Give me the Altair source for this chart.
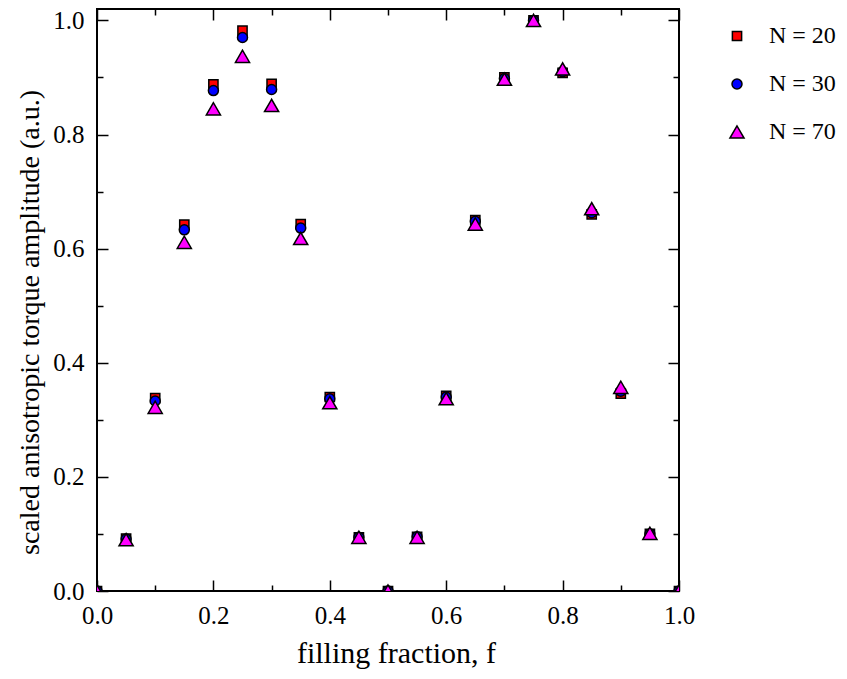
import altair as alt
import pandas as pd

f_vals = [0.0, 0.05, 0.1, 0.15, 0.2, 0.25, 0.3, 0.35, 0.4, 0.45, 0.5,
          0.55, 0.6, 0.65, 0.7, 0.75, 0.8, 0.85, 0.9, 0.95, 1.0]
n20 = [0.0, 0.092, 0.338, 0.642, 0.888, 0.982, 0.889, 0.643, 0.340, 0.094, 0.0,
       0.095, 0.342, 0.650, 0.900, 1.0, 0.908, 0.660, 0.346, 0.100, 0.0]
n30 = [0.0, 0.091, 0.333, 0.633, 0.877, 0.970, 0.879, 0.636, 0.337, 0.094, 0.0,
       0.095, 0.340, 0.648, 0.898, 1.0, 0.910, 0.663, 0.350, 0.100, 0.0]
n70 = [0.0, 0.090, 0.322, 0.611, 0.845, 0.937, 0.851, 0.618, 0.330, 0.094, 0.0,
       0.094, 0.337, 0.643, 0.897, 1.0, 0.915, 0.670, 0.357, 0.101, 0.0]
series_names = ["N = 20", "N = 30", "N = 70"]
series_colors = ["#FF0000", "#0000FF", "#FF00FF"]
series_outline = ["#000000", "#000000", "#000000"]
series_shapes = ["square", "circle", "triangle-up"]
series_sizes = [85, 100, 200]
major_ticks = [0.0, 0.2, 0.4, 0.6, 0.8, 1.0]
minor_ticks = [0.1, 0.3, 0.5, 0.7, 0.9]

rows = []
for name, vals in zip(series_names, [n20, n30, n70]):
    for f, v in zip(f_vals, vals):
        rows.append({"f": f, "amp": v, "series": name})
df = pd.DataFrame(rows)

FONT = "Liberation Serif"
xs = alt.Scale(domain=[0, 1], nice=False, zero=False)
ys = alt.Scale(domain=[0, 1.02], nice=False, zero=False)


def ax(orient, values, size, labels=False, title=None, **kw):
    d = dict(orient=orient, values=values, tickSize=size, offset=-size,
             labels=labels, domain=False, grid=False, tickColor="black",
             tickWidth=1.5, title=title)
    d.update(kw)
    return alt.Axis(**d)


legend = alt.Legend(title=None, orient="right", offset=30, padding=15,
                    labelFont=FONT, labelFontSize=24, labelColor="black",
                    symbolStrokeColor="black", symbolStrokeWidth=1.5,
                    rowPadding=24, labelOffset=20)

main = alt.Chart(df).mark_point(filled=True, strokeWidth=1.5,
                                 opacity=1, clip=True).encode(
    x=alt.X("f:Q", scale=xs,
            axis=ax("bottom", major_ticks, 11, labels=True,
                    title="filling fraction, f", format=".1f",
                    labelPadding=12, labelFlush=False, labelFont=FONT,
                    labelFontSize=25, labelColor="black", titleFont=FONT,
                    titleFontSize=30, titleFontWeight="normal",
                    titleColor="black", titleX=299, titleY=82,
                    titleBaseline="alphabetic")),
    y=alt.Y("amp:Q", scale=ys,
            axis=ax("left", major_ticks, 11, labels=True,
                    title="scaled anisotropic torque amplitude (a.u.)", format=".1f",
                    labelPadding=13, labelFlush=False, labelFont=FONT,
                    labelFontSize=25, labelColor="black", titleFont=FONT,
                    titleFontSize=28, titleFontWeight="normal",
                    titleColor="black", titleX=-70, titleY=313,
                    titleBaseline="alphabetic")),
    fill=alt.Fill("series:N", scale=alt.Scale(domain=series_names, range=series_colors),
                  legend=legend),
    stroke=alt.Stroke("series:N", scale=alt.Scale(domain=series_names, range=series_outline),
                      legend=legend),
    shape=alt.Shape("series:N", scale=alt.Scale(domain=series_names, range=series_shapes),
                    legend=legend),
    size=alt.Size("series:N",
                  scale=alt.Scale(type="ordinal", domain=series_names, range=series_sizes),
                  legend=legend),
    order=alt.Order("series:N"),
)


def helper(xaxis, yaxis):
    return alt.Chart(df).mark_point(opacity=0).encode(
        x=alt.X("f:Q", scale=xs, axis=xaxis),
        y=alt.Y("amp:Q", scale=ys, axis=yaxis),
    )


minor_bl = helper(ax("bottom", minor_ticks, 6), ax("left", minor_ticks, 6))
major_tr = helper(ax("top", major_ticks, 11), ax("right", major_ticks, 11))
minor_tr = helper(ax("top", minor_ticks, 6), ax("right", minor_ticks, 6))

chart = alt.layer(main, minor_bl, major_tr, minor_tr).resolve_axis(
    x="independent", y="independent"
).properties(
    width=582, height=582,
    autosize=alt.AutoSizeParams(type="none"),
    padding={"left": 89, "top": 1, "right": 160, "bottom": 80},
    background="white",
).configure_view(stroke="black", strokeWidth=2)

chart.save("out.html", embed_options={"renderer": "svg", "actions": False})
